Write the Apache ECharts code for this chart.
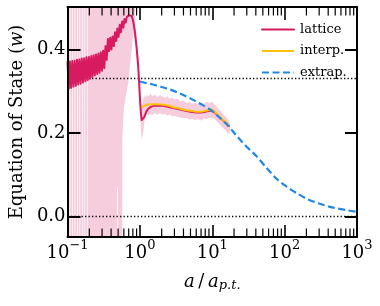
<!DOCTYPE html>
<html><head><meta charset="utf-8">
<script src="https://cdn.jsdelivr.net/npm/echarts@6/dist/echarts.min.js"></script>
<style>html,body{margin:0;padding:0;background:#fff}#c{width:380px;height:306px}</style>
</head><body><div id="c"></div>
<script>
// ---- data ----
const latX = [0.1000,0.1039,0.1078,0.1120,0.1163,0.1208,0.1254,0.1303,0.1353,0.1405,0.1459,0.1515,0.1573,0.1634,0.1697,0.1762,0.1830,0.1900,0.1973,0.2049,0.2128,0.2210,0.2295,0.2384,0.2475,0.2571,0.2670,0.2772,0.2879,0.2990,0.3105,0.3224,0.3348,0.3477,0.3611,0.3750,0.3894,0.4044,0.4200,0.4361,0.4529,0.4704,0.4885,0.5073,0.5268,0.5471,0.5681,0.5900,0.6127,0.6363,0.6608,0.6862,0.7126,
  0.74,0.765,0.79,0.82,0.855,0.9,0.95,1.0,1.03,1.06,1.08,1.1,1.15,1.22,1.3,1.4,1.55,1.8,2.1,2.5,3.0,3.6,4.3,5.0,6.0,7.0,8.0,9.0,9.8,10.5,11.5,12.5,14,15.5,17];
const latY = [0.370,0.306,0.371,0.308,0.372,0.311,0.373,0.313,0.375,0.316,0.376,0.318,0.378,0.321,0.379,0.324,0.381,0.327,0.382,0.330,0.384,0.334,0.386,0.338,0.388,0.341,0.390,0.344,0.393,0.349,0.397,0.355,0.408,0.375,0.425,0.396,0.428,0.400,0.431,0.408,0.441,0.420,0.450,0.430,0.459,0.441,0.467,0.452,0.473,0.464,0.478,0.474,0.482,
  0.482,0.480,0.474,0.462,0.440,0.405,0.358,0.285,0.250,0.231,0.228,0.229,0.238,0.250,0.258,0.262,0.265,0.266,0.265,0.262,0.259,0.256,0.253,0.251,0.249,0.249,0.251,0.253,0.254,0.251,0.245,0.239,0.231,0.224,0.217];

const interpX = [1.05,1.15,1.3,1.6,2.0,2.5,3.0,3.6,4.3,5.0,6.0,7.0,8.0,9.0,9.8,10.5,11.5,12.5,14,15.5,17];
const interpY = [0.261,0.265,0.268,0.269,0.268,0.265,0.261,0.258,0.255,0.253,0.251,0.251,0.253,0.255,0.256,0.253,0.246,0.240,0.232,0.225,0.218];

const extrapX = [1.0,1.25,1.5,2.0,2.6,3.3,4.2,5.6,7.5,9.5,12,16,20.8,26,32,40,56,80,110,150,210,300,450,730,1000];
const extrapY = [0.323,0.319,0.316,0.310,0.304,0.297,0.289,0.278,0.266,0.255,0.240,0.220,0.197,0.178,0.162,0.146,0.117,0.088,0.070,0.055,0.041,0.031,0.022,0.015,0.011];

const bandX  = [0.1,
  0.1068,0.1068,0.1092,0.1092, 0.1156,0.1156,0.1181,0.1181, 0.1250,0.1250,0.1278,0.1278, 0.1352,0.1352,0.1382,0.1382,
  0.1463,0.1463,0.1495,0.1495, 0.1582,0.1582,0.1617,0.1617, 0.1711,0.1711,0.1749,0.1749, 0.1851,0.1851,0.1892,0.1892,
  0.485,0.485,0.497,0.497,
  0.565,0.572,0.60,0.69,0.77,0.81,0.845,0.86,0.9,0.95,1.0,1.03,1.06,1.09,1.12,
  1.15,1.2,1.25,1.3,1.4,1.5,1.6,1.75,1.9,2.05,2.2,2.4,2.6,2.8,3.0,3.3,3.6,4.0,4.4,4.8,5.3,5.8,6.4,7.0,7.7,8.4,9.2,10.0,10.8,11.6,12.5,13.5,14.5,15.5,16.5,17.5];
const bandLo = [-1,
  -1,0.34,0.34,-1, -1,0.34,0.34,-1, -1,0.34,0.34,-1, -1,0.34,0.34,-1,
  -1,0.34,0.34,-1, -1,0.34,0.34,-1, -1,0.34,0.34,-1, -1,0.34,0.34,-1,
  -1,0.07,0.07,-1,
  -1,0.18,0.26,0.32,0.40,0.44,0.43,0.42,0.385,0.33,0.255,0.21,0.185,0.19,0.205,
  0.225,0.240,0.245,0.242,0.245,0.243,0.248,0.244,0.247,0.243,0.246,0.242,0.244,0.240,0.241,0.238,0.237,0.235,0.236,0.232,0.234,0.231,0.233,0.230,0.234,0.233,0.237,0.236,0.233,0.228,0.222,0.215,0.210,0.205,0.200,0.198];
const bandHi = [2,
  2,0.34,0.34,2, 2,0.34,0.34,2, 2,0.34,0.34,2, 2,0.34,0.34,2,
  2,0.34,0.34,2, 2,0.34,0.34,2, 2,0.34,0.34,2, 2,0.34,0.34,2,
  2,2,2,2,
  2,2,2,2,2,2,2,0.47,0.43,0.38,0.31,0.28,0.265,0.27,0.285,
  0.290,0.285,0.292,0.287,0.293,0.288,0.292,0.286,0.290,0.287,0.284,0.288,0.282,0.285,0.280,0.282,0.276,0.278,0.272,0.274,0.270,0.272,0.269,0.273,0.270,0.275,0.272,0.274,0.268,0.262,0.256,0.250,0.243,0.238,0.232,0.222];

const refLines = [1/3, 0];
const xTickVals = [0.1, 1, 10, 100, 1000];
const xTickExps = ['\u22121', '0', '1', '2', '3'];
const xMinorTicks = [0.2,0.3,0.4,0.5,0.6,0.7,0.8,0.9, 2,3,4,5,6,7,8,9, 20,30,40,50,60,70,80,90, 200,300,400,500,600,700,800,900];
const yTickVals = [0, 0.2, 0.4];
const yTickLabels = ['0.0', '0.2', '0.4'];
const legendNames = ['lattice', 'interp.', 'extrap.'];

// ---- chart ----
const F = 'DejaVu Serif';
const chart = echarts.init(document.getElementById('c'), null, {renderer: 'canvas', width: 380, height: 306});
const YMIN = -0.049, YMAX = 0.5015;
function xLabel(v) {
  const i = xTickVals.findIndex(t => Math.abs(Math.log10(t) - Math.log10(v)) < 1e-6);
  return i < 0 ? '' : '{b|10}{s|' + xTickExps[i] + '}';
}
function yLabel(v) {
  const i = yTickVals.findIndex(t => Math.abs(t - v) < 1e-9);
  return i < 0 ? '' : yTickLabels[i];
}
const AX = {color: '#000', width: 2};
const xBase = {type: 'log', logBase: 10, min: 0.1, max: 1000, z: 10, splitLine: {show: false}, minorTick: {show: false}};
const yBase = {type: 'value', min: YMIN, max: YMAX, z: 10, splitLine: {show: false}};

const option = {
  animation: false,
  grid: {left: 64, top: 7, width: 293, height: 234},
  legend: {
    orient: 'vertical', left: 256, top: 18, itemWidth: 32, itemHeight: 14, itemGap: 8.5,
    itemStyle: {opacity: 0},
    textStyle: {fontFamily: F, fontSize: 13, color: '#000', padding: [0, 0, 0, 1]},
    data: legendNames
  },
  xAxis: [
    Object.assign({}, xBase, {
      position: 'bottom',
      axisLine: {show: true, onZero: false, lineStyle: AX},
      axisTick: {show: true, inside: true, length: 12, customValues: xTickVals, lineStyle: {color: '#000', width: 1.6}},
      axisLabel: {show: true, customValues: xTickVals, margin: 3, formatter: xLabel,
        rich: {b: {fontFamily: F, fontSize: 18, lineHeight: 26, height: 26, verticalAlign: 'bottom', color: '#000'},
               s: {fontFamily: F, fontSize: 13, lineHeight: 12, height: 12, verticalAlign: 'top', color: '#000'}}},
      name: '{i|a}{n|\u2009/\u2009}{i|a}{s|p.t.}', nameLocation: 'middle', nameGap: 34,
      nameTextStyle: {fontFamily: F, fontSize: 18, color: '#000',
        rich: {i: {fontFamily: F, fontStyle: 'italic', fontSize: 18, lineHeight: 22, height: 22, verticalAlign: 'top', color: '#000'},
               n: {fontFamily: F, fontSize: 18, lineHeight: 22, height: 22, verticalAlign: 'top', color: '#000'},
               s: {fontFamily: F, fontStyle: 'italic', fontSize: 13, lineHeight: 30, height: 30, verticalAlign: 'top', color: '#000'}}}
    }),
    Object.assign({}, xBase, {
      position: 'top',
      axisLine: {show: true, onZero: false, lineStyle: AX},
      axisTick: {show: true, inside: true, length: 13, customValues: xTickVals, lineStyle: {color: '#000', width: 1.6}},
      axisLabel: {show: false}
    })
  ],
  yAxis: [
    Object.assign({}, yBase, {
      position: 'left',
      axisLine: {show: true, onZero: false, lineStyle: AX},
      axisTick: {show: true, inside: true, length: 13, customValues: yTickVals, lineStyle: {color: '#000', width: 2}},
      axisLabel: {show: true, customValues: yTickVals, margin: 2, formatter: yLabel, fontFamily: F, fontSize: 18, color: '#000'},
      name: 'Equation of State ({w|w})', nameLocation: 'middle', nameGap: 37,
      nameTextStyle: {fontFamily: F, fontSize: 18, color: '#000',
        rich: {w: {fontFamily: F, fontStyle: 'italic', fontSize: 18, color: '#000'}}}
    }),
    Object.assign({}, yBase, {
      position: 'right',
      axisLine: {show: true, onZero: false, lineStyle: AX},
      axisTick: {show: true, inside: true, length: 12, customValues: yTickVals, lineStyle: {color: '#000', width: 2}},
      axisLabel: {show: false}
    })
  ],
  series: [
    {
      type: 'custom', name: 'band', z: 1, clip: true, silent: true,
      xAxisIndex: 0, yAxisIndex: 0,
      data: [[bandX[0], bandLo[0]]],
      renderItem: function (params, api) {
        const pts = [];
        for (let i = 0; i < bandX.length; i++) pts.push(api.coord([bandX[i], bandHi[i]]));
        for (let i = bandX.length - 1; i >= 0; i--) pts.push(api.coord([bandX[i], bandLo[i]]));
        return {type: 'polygon', shape: {points: pts}, style: {fill: 'rgba(216,27,96,0.22)'}};
      }
    },
    {
      type: 'line', name: 'ref', z: 2, data: [], symbol: 'none',
      markLine: {silent: true, symbol: ['none', 'none'], label: {show: false},
        lineStyle: {color: '#000', type: [1.3, 2.2], width: 1.3},
        data: refLines.map(v => ({yAxis: v}))}
    },
    {
      type: 'line', name: 'lattice', z: 6, symbol: 'none', showSymbol: false, smooth: false,
      lineStyle: {color: '#D81B60', width: 2, join: 'round', cap: 'round'}, itemStyle: {color: '#D81B60'},
      data: latX.map((x, i) => [x, latY[i]])
    },
    {
      type: 'line', name: 'interp.', z: 7, symbol: 'none', showSymbol: false, smooth: 0.3,
      lineStyle: {color: '#FFC107', width: 2}, itemStyle: {color: '#FFC107'},
      data: interpX.map((x, i) => [x, interpY[i]])
    },
    {
      type: 'line', name: 'extrap.', z: 8, symbol: 'none', showSymbol: false, smooth: 0.3,
      lineStyle: {color: '#1E88E5', width: 2.2, type: [7, 3.5]}, itemStyle: {color: '#1E88E5'},
      data: extrapX.map((x, i) => [x, extrapY[i]])
    },
    {
      type: 'custom', name: 'minorTicks', z: 12, clip: false, silent: true,
      xAxisIndex: 0, yAxisIndex: 0,
      data: xMinorTicks.map(v => [v, 0]),
      renderItem: function (params, api) {
        const cs = params.coordSys;
        const x = api.coord([api.value(0), 0])[0];
        const st = {stroke: '#000', lineWidth: 1.2};
        return {type: 'group', children: [
          {type: 'line', shape: {x1: x, y1: cs.y + cs.height, x2: x, y2: cs.y + cs.height - 8.5}, style: st},
          {type: 'line', shape: {x1: x, y1: cs.y, x2: x, y2: cs.y + 8.5}, style: st}
        ]};
      }
    }
  ]
};
chart.setOption(option);
</script>
</body></html>
